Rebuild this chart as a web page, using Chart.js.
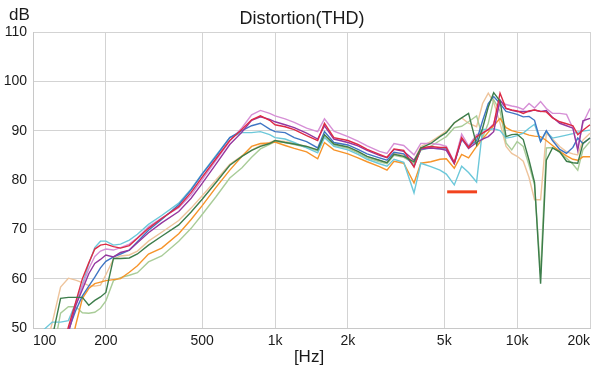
<!DOCTYPE html>
<html>
<head>
<meta charset="utf-8">
<script src="https://cdn.jsdelivr.net/npm/chart.js@4.4.0/dist/chart.umd.min.js"></script>
<style>
  html, body { margin: 0; padding: 0; background: #fff; }
  #wrap { width: 599px; height: 369px; position: relative; }
</style>
</head>
<body>
<div id="wrap"><canvas id="thd"></canvas></div>
<script>
// frequency points (Hz), shared by every curve
const freqs = [100, 110, 120, 130, 140, 150, 160, 170, 180, 190,
  200, 215, 230, 250, 270, 300, 340, 400, 450, 500,
  570, 650, 730, 800, 870, 950, 1000, 1100, 1200, 1350,
  1500, 1600, 1750, 2000, 2200, 2400, 2700, 2900, 3100, 3400,
  3750, 4000, 4400, 4800, 5100, 5500, 5900, 6300, 6800, 7200,
  7600, 8000, 8500, 9000, 9500, 10000, 10600, 11200, 11800, 12500,
  13200, 14000, 15000, 16000, 17000, 17800, 18700, 20000];

const xTicks = [100, 200, 500, 1000, 2000, 5000, 10000, 20000];

// dB values, below 50 they fall off the bottom of the plot
const pink = [44, 44, 44, 44, 49.5, 54.5, 58.5, 62, 64.5, 65.6,
  66, 65.8, 66.3, 67, 68.3, 70.5, 72.3, 74.4, 77, 80.1,
  84, 87.9, 90.6, 93.2, 94.1, 93.5, 93, 92.4, 91.7, 90.5,
  89.8, 92.4, 89.9, 88.8, 87.9, 86.9, 85.8, 85.4, 87.4, 87,
  85.1, 87.4, 87.4, 87.2, 86.8, 83.6, 89.3, 86.9, 89.2, 89.6,
  90.3, 91.4, 96, 95.3, 95, 94.8, 94.3, 95.5, 94.6, 95.9,
  94.5, 93.5, 93.5, 93.3, 90.5, 86.6, 91.5, 94.5];

const red = [44, 44, 44, 44, 50.2, 55.2, 60, 63.2, 66, 66.8,
  67, 66.5, 66.2, 66.7, 68.2, 70.2, 72.2, 74.6, 77.5, 80.6,
  84.3, 88, 90.3, 92.2, 93, 92.1, 91.2, 90.8, 90.2, 89,
  88, 91.5, 88.6, 88, 87.2, 86.2, 85.2, 84.6, 86.3, 86,
  82.6, 86.5, 86.8, 86.6, 86.6, 83.5, 88.6, 86.6, 88.8, 89.5,
  90.2, 91.2, 97.6, 94.5, 94.2, 94, 93.5, 94, 94.2, 93.9,
  93.8, 92.6, 91.8, 91.4, 91, 89.2, 90.1, 91.2];

const purple = [44, 44, 44, 44, 49, 54.5, 57.8, 61, 63.1, 63.9,
  64.8, 64.4, 65.3, 65.8, 67.3, 69.3, 71.3, 73.6, 76.3, 79.3,
  83.2, 87.2, 89.7, 92.1, 92.8, 92.3, 91.8, 91.2, 90.6, 89.5,
  88.3, 91, 88.3, 87.6, 86.9, 86, 85, 84.5, 86.2, 85.8,
  84, 86.3, 86.5, 86.3, 86, 83.3, 88.4, 86.4, 87.6, 88.3,
  88.8, 89.8, 96.2, 94.5, 94.1, 93.9, 93.9, 93.9, 94.2, 93.9,
  94.1, 92.7, 91.5, 91, 90.5, 86, 92, 92.5];

const blue = [44, 44, 44, 45, 49.5, 53.5, 56.5, 58.5, 60.3, 62.2,
  63.5, 64.4, 65, 65.8, 67.5, 69.8, 72, 75, 78, 81.2,
  84.8, 88.6, 90, 91, 91.5, 90.3, 89.8, 89.6, 88.6, 87.8,
  86.5, 89.8, 87.6, 87.1, 86.2, 85.3, 84.5, 84, 85.6, 85.3,
  82.8, 86.2, 86.5, 86.3, 86.3, 83.4, 88.2, 86.8, 88, 92,
  95.5, 96.9, 95.5, 93.9, 93.6, 93.3, 92.8, 92.9, 92.1, 87.8,
  90, 88, 86.2, 85.4, 86.6, 88.5, 87.4, 88.5];

const cyan = [46, 49.5, 51.2, 51.2, 51.5, 55, 58.8, 63, 66.3, 67.6,
  67.6, 66.8, 67, 67.8, 69, 71, 72.8, 75.3, 78.2, 81.3,
  85, 88.6, 89.6, 89.6, 89.8, 89.2, 88.6, 88.3, 87.6, 86.5,
  85.5, 88.6, 86.8, 86.1, 85.2, 84.2, 83.3, 82.8, 84.2, 83.6,
  77.4, 83.4, 82.7, 82, 81.2, 79, 82.8, 81.5, 79.6, 90.3,
  90.2, 90.4, 90, 88.5, 88.7, 89, 89.5, 90.5, 91.3, 87.8,
  89.8, 88.5, 88.8, 89.1, 89.4, 89.7, 89.9, 90.1];

const darkGreen = [44, 44, 48, 56, 56.2, 56.2, 56.2, 54.6, 55.6, 56.3,
  57.2, 64.1, 64.1, 64.2, 65, 66.8, 68.6, 70.9, 73.5, 76.1,
  79.5, 83, 84.8, 86, 86.8, 87.4, 88, 87.6, 87.3, 86.8,
  86.1, 89.2, 87.3, 86.7, 85.8, 84.8, 84, 83.5, 85.2, 84.8,
  83.7, 86.5, 87.4, 88.8, 89.6, 91.6, 92.6, 93.5, 87.1, 90.5,
  94.8, 97.7, 96, 88.8, 89.2, 89.3, 88.2, 84, 79.5, 59,
  84, 86.5, 85.7, 83.8, 83.5, 83.4, 87.4, 88.5];

const lightGreen = [44, 44, 44, 53, 54.3, 54.3, 53.1, 53, 53.2, 54,
  55.5, 59.6, 60.2, 60.7, 61.2, 63.4, 64.6, 67.6, 70.2, 73,
  76.6, 80.4, 82.5, 84.6, 86.3, 87.2, 87.8, 87.6, 87.2, 86.6,
  85.9, 88.9, 87, 86.4, 85.5, 84.5, 83.7, 83.3, 85, 84.6,
  83.4, 86, 86.8, 88, 88.8, 90.6, 90.9, 91.8, 93, 88.6,
  91.5, 96.3, 94, 87.5, 86.1, 87.8, 86.8, 83, 79, 61,
  86.5, 86.6, 85.6, 84.4, 83.2, 82, 86.1, 87.8];

const orange = [44, 44, 44, 44, 44, 50.5, 56, 58, 59, 59.3,
  59.6, 59.8, 60, 61.3, 62.6, 65, 66.2, 69.1, 72, 74.8,
  78.5, 82, 84.8, 86.8, 87.4, 87.5, 87.7, 87, 86.4, 85.7,
  84.3, 87.6, 86.1, 85.3, 84.5, 83.7, 82.7, 82, 83.8, 83.4,
  79.4, 83.4, 83.7, 84.2, 84.3, 82.4, 85.2, 84.5, 86.8, 88.3,
  89.7, 91, 92.5, 90.6, 90, 89.7, 89.5, 89.1, 88.9, 88.8,
  88, 87, 85.8, 84.9, 84.2, 84, 84.7, 84.7];

const tan = [44, 44, 51, 58.3, 60.1, 59.7, 59.2, 58.6, 58.5, 58.7,
  60.8, 64, 64.6, 64.8, 65.6, 67.6, 69.4, 71.8, 74.3, 76.8,
  80, 83.2, 84.9, 86, 87, 87.6, 88, 87.8, 87.4, 86.8,
  86, 89, 87.2, 86.6, 85.7, 84.7, 83.9, 83.5, 85.4, 85,
  84, 86.8, 87.8, 89, 89.9, 91.5, 92.6, 91.5, 90.8, 95.5,
  97.6, 95.8, 91.5, 86.8, 85.4, 84.8, 83.8, 80.5, 76, 76,
  89.5, 88.3, 86.8, 85.7, 85.3, 85.1, 88.1, 89.5];

// short red reference bar
const markerFreqs = [5140, 6830];
const markerLevel = [77.6, 77.6];

const fontFamily = '"Liberation Sans", Arial, Helvetica, sans-serif';

function toPoints(xs, ys) {
    return xs.map((f, i) => ({ x: f, y: ys[i] }));
}

function curve(values, color) {
    return {
        data: toPoints(freqs, values),
        borderColor: color,
        backgroundColor: color,
        borderWidth: 1.4,
        pointRadius: 0,
        tension: 0,
        fill: false,
        clip: 1
    };
}

function tickLabel(v) {
    if (v >= 1000) return (v / 1000) + "k";
    return String(v);
}

// titles that sit outside the plot area
const textPlugin = {
    id: 'textLabels',
    afterDraw(chart) {
        const { ctx } = chart;
        ctx.save();
        ctx.fillStyle = '#1a1a1a';
        ctx.textBaseline = 'middle';

        ctx.font = '18px ' + fontFamily;
        ctx.textAlign = 'center';
        ctx.fillText('Distortion(THD)', 302, 19);

        ctx.font = '17px ' + fontFamily;
        ctx.textAlign = 'left';
        ctx.fillText('dB', 9, 15);

        ctx.textAlign = 'center';
        ctx.fillText('[Hz]', 309, 357);
        ctx.restore();
    }
};

const ctx = document.getElementById('thd').getContext('2d');

new Chart(ctx, {
    type: 'line',
    data: {
        datasets: [
            {
                data: toPoints(markerFreqs, markerLevel),
                borderColor: '#f2431e',
                borderWidth: 3,
                pointRadius: 0,
                fill: false
            },
            curve(darkGreen, '#3d7d4b'),
            curve(red, '#dd2a45'),
            curve(purple, '#95379f'),
            curve(blue, '#3f76c4'),
            curve(pink, '#d68fd6'),
            curve(cyan, '#6cc8da'),
            curve(orange, '#f6942a'),
            curve(lightGreen, '#a9cc98'),
            curve(tan, '#eec49c')
        ]
    },
    options: {
        responsive: true,
        maintainAspectRatio: false,
        animation: false,
        layout: {
            padding: { top: 32, right: 9, left: 0, bottom: 0 }
        },
        scales: {
            x: {
                type: 'logarithmic',
                min: 100,
                max: 20000,
                afterBuildTicks(scale) {
                    scale.ticks = xTicks.map(v => ({ value: v }));
                },
                afterFit(scale) {
                    scale.height = 41;
                },
                grid: {
                    color: '#d3d3d3',
                    drawTicks: false
                },
                border: { color: '#c8c8c8' },
                ticks: {
                    autoSkip: false,
                    maxRotation: 0,
                    align: 'inner',
                    padding: 5,
                    color: '#1a1a1a',
                    font: { size: 14, family: fontFamily },
                    callback: (v) => tickLabel(v)
                }
            },
            y: {
                min: 50,
                max: 110,
                afterFit(scale) {
                    scale.width = 33;
                },
                grid: {
                    color: '#d3d3d3',
                    drawTicks: false
                },
                border: { color: '#c8c8c8' },
                ticks: {
                    stepSize: 10,
                    padding: 6,
                    color: '#1a1a1a',
                    font: { size: 14, family: fontFamily }
                }
            }
        },
        plugins: {
            legend: { display: false },
            tooltip: { enabled: false }
        }
    },
    plugins: [textPlugin]
});
</script>
</body>
</html>
